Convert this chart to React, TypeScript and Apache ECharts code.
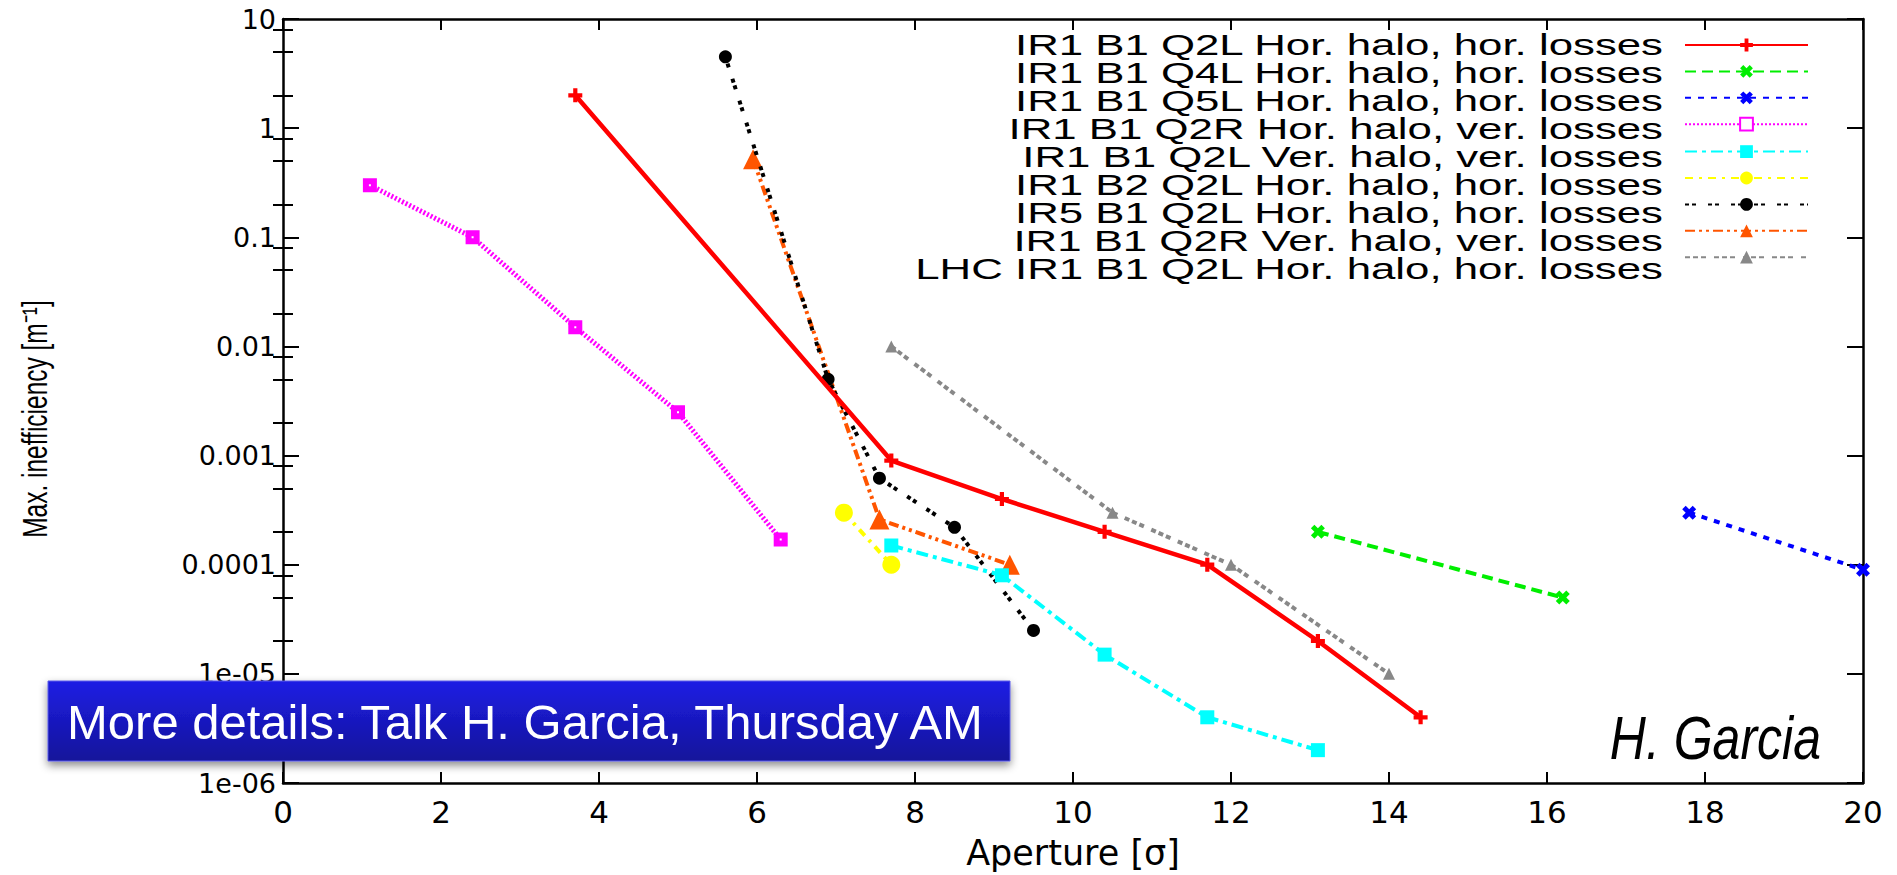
import React, { useEffect, useRef } from 'react';
import * as echarts from 'echarts';

// ---------- data ----------
const seriesNames = [
  'IR1 B1 Q2L Hor. halo, hor. losses',
  'IR1 B1 Q4L Hor. halo, hor. losses',
  'IR1 B1 Q5L Hor. halo, hor. losses',
  'IR1 B1 Q2R Hor. halo, ver. losses',
  'IR1 B1 Q2L Ver. halo, ver. losses',
  'IR1 B2 Q2L Hor. halo, hor. losses',
  'IR5 B1 Q2L Hor. halo, hor. losses',
  'IR1 B1 Q2R Ver. halo, ver. losses',
  'LHC IR1 B1 Q2L Hor. halo, hor. losses',
];

const ir1B1Q2LHor = [[3.7, 2], [7.7, 9e-4], [9.1, 4e-4], [10.4, 2e-4], [11.7, 1e-4], [13.1, 2e-5], [14.4, 4e-6]];
const ir1B1Q4LHor = [[13.1, 2e-4], [16.2, 5e-5]];
const ir1B1Q5LHor = [[17.8, 3e-4], [20, 9e-5]];
const ir1B1Q2RHorVer = [[1.1, 0.3], [2.4, 0.1], [3.7, 0.015], [5.0, 0.0025], [6.3, 1.7e-4]];
const ir1B1Q2LVer = [[7.7, 1.5e-4], [9.1, 8e-5], [10.4, 1.5e-5], [11.7, 4e-6], [13.1, 2e-6]];
const ir1B2Q2LHor = [[7.1, 3e-4], [7.7, 1e-4]];
const ir5B1Q2LHor = [[5.6, 4.5], [6.9, 5e-3], [7.55, 6.2e-4], [8.5, 2.2e-4], [9.5, 2.5e-5]];
const ir1B1Q2RVer = [[5.95, 0.52], [7.55, 2.6e-4], [9.2, 1e-4]];
const lhcIr1B1Q2LHor = [[7.7, 0.01], [10.5, 3e-4], [12.0, 1e-4], [14.0, 1e-5]];

const yDecadeLabels = ['1e-06', '1e-05', '0.0001', '0.001', '0.01', '0.1', '1', '10'];
const yDecades = [1e-6, 1e-5, 1e-4, 1e-3, 1e-2, 1e-1, 1];
const yMinorMantissas = [2, 5, 8];

const xAxisTitle = 'Aperture [σ]';
const yAxisTitle = 'Max. inefficiency [m⁻¹]';
const noteText = 'More details: Talk H. Garcia, Thursday AM';
const authorText = 'H. Garcia';

// ---------- styles ----------
const plusSymbol = 'path://M3.5,0H6.5V3.5H10V6.5H6.5V10H3.5V6.5H0V3.5H3.5Z';
const crossSymbol = 'path://M0,2.5L2.5,0L5,2.5L7.5,0L10,2.5L7.5,5L10,7.5L7.5,10L5,7.5L2.5,10L0,7.5L2.5,5Z';

export default function App() {
  const ref = useRef<HTMLDivElement>(null);

  useEffect(() => {
    if (!ref.current) return;
    const chart = echarts.init(ref.current, null, { renderer: 'svg' });

    const yMinorValues: number[] = [];
    yDecades.forEach((d) => yMinorMantissas.forEach((m) => yMinorValues.push(m * d)));

    const mk = (
      idx: number,
      data: number[][],
      color: string,
      dash: any,
      symbol: string,
      symbolSize: number,
      extraItem: any = {},
      width = 4
    ) => ({
      type: 'line',
      name: seriesNames[idx],
      data,
      xAxisIndex: 0,
      yAxisIndex: 0,
      symbol,
      symbolSize,
      showSymbol: true,
      lineStyle: { color, width, type: dash },
      itemStyle: { color, ...extraItem },
      emphasis: { disabled: true },
      z: 20 - idx,
    });

    const series = [
      mk(0, ir1B1Q2LHor, '#ff0000', 'solid', plusSymbol, 14, {}, 4.5),
      mk(1, ir1B1Q4LHor, '#00ee00', [11, 6], crossSymbol, 14),
      mk(2, ir1B1Q5LHor, '#0000ff', [6, 7], crossSymbol, 14),
      mk(3, ir1B1Q2RHorVer, '#ff00ff', [2, 2], 'rect', 8, { color: '#ffffff', borderColor: '#ff00ff', borderWidth: 6 }, 5),
      mk(4, ir1B1Q2LVer, '#00ffff', [12, 5, 4, 5], 'rect', 14),
      mk(5, ir1B2Q2LHor, '#ffff00', [8, 6, 3, 6], 'circle', 18),
      mk(6, ir5B1Q2LHor, '#000000', [4, 3, 4, 12], 'circle', 13),
      mk(7, ir1B1Q2RVer, '#ff5500', [10, 4, 3, 4, 3, 4], 'triangle', 20),
      mk(8, lhcIr1B1Q2LHor, '#888888', [5, 3, 5, 3, 5, 8], 'triangle', 12),
    ];

    const axisLine = { show: true, onZero: false, lineStyle: { color: '#000', width: 2.5 } };
    const majorTickY = { show: true, inside: true, length: 16, lineStyle: { color: '#000', width: 2 } };
    const minorTickY = { show: true, inside: true, length: 10, customValues: yMinorValues, lineStyle: { color: '#000', width: 2 } };
    const tickX = { show: true, inside: true, length: 11, lineStyle: { color: '#000', width: 2 } };

    const logBase = { type: 'log', logBase: 10, min: 1e-6, max: 10, splitNumber: 7, splitLine: { show: false } };

    const option: any = {
      animation: false,
      backgroundColor: '#ffffff',
      textStyle: { fontFamily: 'Liberation Sans, Arial, sans-serif' },
      grid: { left: 283, top: 19, width: 1580, height: 767, containLabel: false },
      legend: {
        data: seriesNames,
        orient: 'vertical',
        left: 1684,
        top: 37,
        padding: 0,
        itemWidth: 123,
        itemHeight: 16,
        itemGap: 12,
        align: 'right',
        selectedMode: false,
        formatter: () => '',
        textStyle: { fontSize: 8 },
      },
      xAxis: [
        {
          type: 'value', min: 0, max: 20, interval: 2, position: 'bottom',
          axisLine, axisTick: tickX, splitLine: { show: false },
          axisLabel: { fontSize: 31, fontFamily: 'DejaVu Sans', color: '#000', margin: 13 },
          name: xAxisTitle, nameLocation: 'middle', nameGap: 52,
          nameTextStyle: { fontSize: 35, fontFamily: 'DejaVu Sans', color: '#000' },
        },
        {
          type: 'value', min: 0, max: 20, interval: 2, position: 'top',
          axisLine, axisTick: tickX, splitLine: { show: false }, axisLabel: { show: false },
        },
      ],
      yAxis: [
        {
          ...logBase, position: 'left', axisLine, axisTick: majorTickY,
          axisLabel: {
            fontSize: 27, fontFamily: 'DejaVu Sans', color: '#000', margin: 7,
            formatter: (v: number) => yDecadeLabels[Math.round(Math.log10(v)) + 6] ?? '',
          },
        },
        { ...logBase, position: 'left', axisLine: { show: false }, axisTick: minorTickY, axisLabel: { show: false } },
        { ...logBase, position: 'right', axisLine, axisTick: majorTickY, axisLabel: { show: false } },
        { ...logBase, position: 'right', axisLine: { show: false }, axisTick: minorTickY, axisLabel: { show: false } },
      ],
      series,
      graphic: [
        ...seriesNames.map((n, i) => ({
          type: 'text', x: 1663, y: 45 + 28 * i, scaleX: 1.46, z: 50,
          style: { text: n, fontSize: 30, fontFamily: 'Liberation Sans, Arial, sans-serif', fill: '#000', align: 'right', verticalAlign: 'middle' },
        })),
        {
          type: 'text', x: 35, y: 419, rotation: Math.PI / 2, scaleX: 0.7, z: 50,
          style: { text: yAxisTitle, fontSize: 35, fontFamily: 'Liberation Sans, Arial, sans-serif', fill: '#000', align: 'center', verticalAlign: 'middle' },
        },
        {
          type: 'rect', z: 100,
          shape: { x: 48, y: 681, width: 962, height: 80 },
          style: {
            fill: new echarts.graphic.LinearGradient(0, 0, 0, 1, [
              { offset: 0, color: '#1f1fe4' },
              { offset: 1, color: '#12129a' },
            ]),
            stroke: '#5a5ae8', lineWidth: 1,
            shadowBlur: 8, shadowOffsetY: 4, shadowColor: 'rgba(0,0,0,0.45)',
          },
        },
        {
          type: 'text', x: 67, y: 722, z: 101,
          style: { text: noteText, fontSize: 49, fontFamily: 'Liberation Sans, Arial, sans-serif', fill: '#ffffff', verticalAlign: 'middle' },
        },
        {
          type: 'text', x: 1821, y: 738, scaleX: 0.82, z: 101,
          style: { text: authorText, fontSize: 61, fontStyle: 'italic', fontFamily: 'Liberation Sans, Arial, sans-serif', fill: '#000', align: 'right', verticalAlign: 'middle' },
        },
      ],
    };

    chart.setOption(option);
    return () => chart.dispose();
  }, []);

  return (
    <div
      ref={ref}
      style={{ position: 'fixed', left: 0, top: 0, width: 1897, height: 875, background: '#fff' }}
    />
  );
}
